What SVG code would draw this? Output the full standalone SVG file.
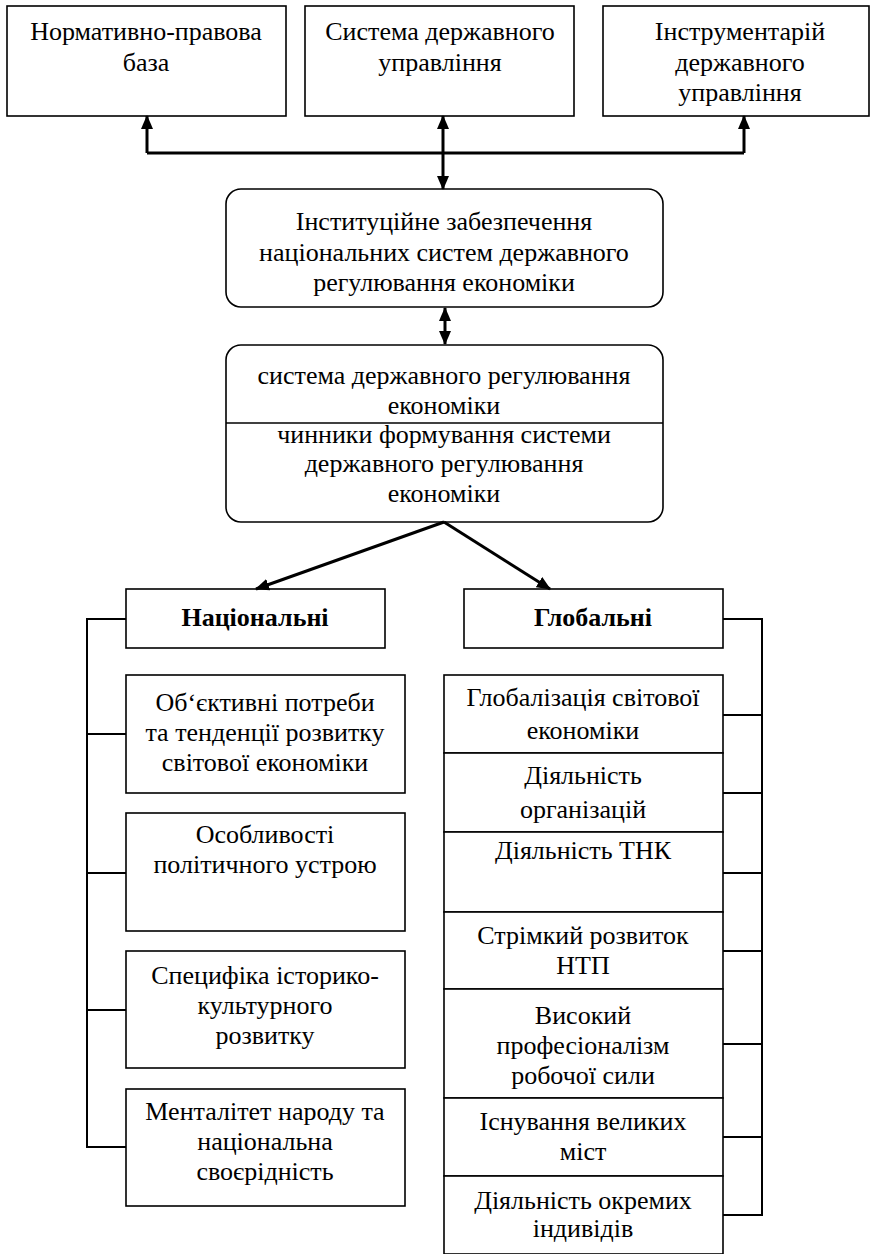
<svg xmlns="http://www.w3.org/2000/svg" width="877" height="1254" viewBox="0 0 877 1254">
<style>
.box{fill:#fff;stroke:#000;stroke-width:1.6}
.t{font-family:"Liberation Serif","Times New Roman",serif;font-size:26px;text-anchor:middle;fill:#000}
.b{font-weight:bold}
.thick{fill:none;stroke:#000;stroke-width:3}
.thin{fill:none;stroke:#000;stroke-width:2}
</style>
<defs>
<marker id="ah" markerUnits="userSpaceOnUse" markerWidth="14" markerHeight="14" viewBox="0 0 14 12" refX="13" refY="6" orient="auto-start-reverse">
<path d="M0,0 L14,6 L0,12 Z" fill="#000"/>
</marker>
</defs>
<g id="n1"><rect class="box" x="7" y="6" width="279" height="110"/>
<text class="t" x="146" y="40">Нормативно-правова</text><text class="t" x="146" y="71">база</text></g>
<g id="n2"><rect class="box" x="305" y="6" width="269" height="110"/>
<text class="t" x="440" y="40">Система державного</text><text class="t" x="440" y="71">управління</text></g>
<g id="n3"><rect class="box" x="603" y="6" width="266" height="110"/>
<text class="t" x="740" y="40">Інструментарій</text><text class="t" x="740" y="71">державного</text><text class="t" x="740" y="101">управління</text></g>
<g id="n4"><rect class="box" x="226" y="189" width="437" height="118" rx="15"/>
<text class="t" x="444" y="230">Інституційне забезпечення</text><text class="t" x="444" y="261">національних систем державного</text><text class="t" x="444" y="291">регулювання економіки</text></g>
<g id="n5"><rect class="box" x="226" y="345" width="437" height="177" rx="15"/>
<line class="box" x1="226" y1="423" x2="663" y2="423"/>
<text class="t" x="444" y="384">система державного регулювання</text><text class="t" x="444" y="414">економіки</text>
<text class="t" x="444" y="443">чинники формування системи</text><text class="t" x="444" y="472">державного регулювання</text><text class="t" x="444" y="502">економіки</text></g>
<g id="n6"><rect class="box" x="126" y="589" width="259" height="59"/><text class="t b" x="255" y="626">Національні</text></g>
<g id="n7"><rect class="box" x="464" y="589" width="259" height="59"/><text class="t b" x="593" y="626">Глобальні</text></g>
<g id="l1"><rect class="box" x="126" y="675" width="279" height="118"/>
<text class="t" x="265" y="711">Об‘єктивні потреби</text><text class="t" x="265" y="741">та тенденції розвитку</text><text class="t" x="265" y="771">світової економіки</text></g>
<g id="l2"><rect class="box" x="126" y="813" width="279" height="118"/>
<text class="t" x="265" y="843">Особливості</text><text class="t" x="265" y="873">політичного устрою</text></g>
<g id="l3"><rect class="box" x="126" y="951" width="279" height="117"/>
<text class="t" x="265" y="984">Специфіка історико-</text><text class="t" x="265" y="1014">культурного</text><text class="t" x="265" y="1044">розвитку</text></g>
<g id="l4"><rect class="box" x="126" y="1089" width="279" height="117"/>
<text class="t" x="265" y="1120">Менталітет народу та</text><text class="t" x="265" y="1150">національна</text><text class="t" x="265" y="1180">своєрідність</text></g>
<g id="r1"><rect class="box" x="444" y="675" width="279" height="78"/>
<text class="t" x="583" y="706">Глобалізація світової</text><text class="t" x="583" y="739">економіки</text></g>
<g id="r2"><rect class="box" x="444" y="753" width="279" height="79"/>
<text class="t" x="583" y="784">Діяльність</text><text class="t" x="583" y="818">організацій</text></g>
<g id="r3"><rect class="box" x="444" y="832" width="279" height="80"/>
<text class="t" x="583" y="859">Діяльність ТНК</text></g>
<g id="r4"><rect class="box" x="444" y="912" width="279" height="77"/>
<text class="t" x="583" y="944">Стрімкий розвиток</text><text class="t" x="583" y="974">НТП</text></g>
<g id="r5"><rect class="box" x="444" y="989" width="279" height="109"/>
<text class="t" x="583" y="1024">Високий</text><text class="t" x="583" y="1054">професіоналізм</text><text class="t" x="583" y="1084">робочої сили</text></g>
<g id="r6"><rect class="box" x="444" y="1098" width="279" height="78"/>
<text class="t" x="583" y="1130">Існування великих</text><text class="t" x="583" y="1160">міст</text></g>
<g id="r7"><rect class="box" x="444" y="1176" width="279" height="78"/>
<text class="t" x="583" y="1209">Діяльність окремих</text><text class="t" x="583" y="1237">індивідів</text></g>
<g id="connectors">
<polyline class="thick" points="147,153 744,153"/>
<line class="thick" x1="147" y1="153" x2="147" y2="116" marker-end="url(#ah)"/>
<line class="thick" x1="744" y1="153" x2="744" y2="116" marker-end="url(#ah)"/>
<line class="thick" x1="443" y1="153" x2="443" y2="116" marker-end="url(#ah)"/>
<line class="thick" x1="443" y1="153" x2="443" y2="189" marker-end="url(#ah)"/>
<line class="thick" x1="445" y1="308" x2="445" y2="344" marker-start="url(#ah)" marker-end="url(#ah)"/>
<line class="thick" x1="444" y1="522" x2="256" y2="589" marker-end="url(#ah)"/>
<line class="thick" x1="444" y1="522" x2="550" y2="589" marker-end="url(#ah)"/>
<path class="thin" d="M126,619 H87 V1147 H126 M87,734 H126 M87,873 H126 M87,1010 H126"/>
<path class="thin" d="M723,619 H762 V1215 H723 M723,715 H762 M723,793 H762 M723,873 H762 M723,951 H762 M723,1044 H762 M723,1137 H762"/>
</g>
</svg>
